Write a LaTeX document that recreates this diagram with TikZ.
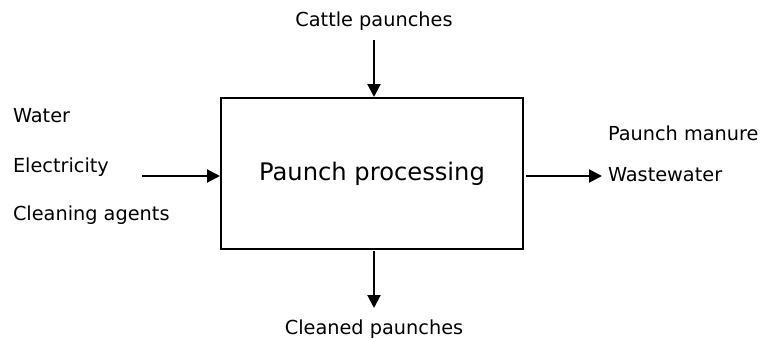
\documentclass[tikz,border=0pt]{standalone}
\usepackage{fontspec}
\setmainfont{DejaVu Sans}
\usetikzlibrary{arrows.meta}

\tikzset{
  flow/.style={line width=2pt, custcol_0_0_0, -{Triangle[length=13pt,width=13pt]}},
  lbl/.style={inner sep=0, outer sep=0, custcol_0_0_0, anchor=base west, font=\fontsize{19.3pt}{19.3pt}\selectfont},
  lblc/.style={lbl, anchor=base},
}

\begin{document}
\begin{tikzpicture}[x=1pt,y=-1pt,line cap=rect]
\useasboundingbox (0,0) rectangle (764,340);
\definecolor{custcol_0_0_0}{RGB}{0, 0, 0}
\definecolor{custcol_ff_ff_ff}{RGB}{255, 255, 255}
\fill [custcol_ff_ff_ff] (0,0) rectangle (764,340);
% process box
\node[draw, line width=2pt, custcol_0_0_0, inner sep=0, minimum width=302pt, minimum height=151pt,
      font=\fontsize{24.2pt}{24.2pt}\selectfont] (proc) at (372,173.5) {Paunch processing};
% labels
\node[lblc] (cattle) at (374,26.5) {Cattle paunches};
\node[lblc] (cleaned) at (374,334) {Cleaned paunches};
\node[lbl] (water) at (13,122) {Water};
\node[lbl] (elec) at (13,172.5) {Electricity};
\node[lbl] (agents) at (13,220) {Cleaning agents};
\node[lbl] (manure) at (608,140) {Paunch manure};
\node[lbl] (waste) at (608,181) {Wastewater};
% arrow ends
\coordinate (inTop) at (374,41);
\coordinate (inLeft) at (143,176);
\coordinate (outRight) at (602,176);
\coordinate (outBot) at (374,308);
\draw [flow] (inTop) -- (inTop |- proc.north);
\draw [flow] (inLeft) -- (inLeft -| proc.west);
\draw [flow, shorten <=3pt] (outRight -| proc.east) -- (outRight);
\draw [flow, shorten <=2pt] (outBot |- proc.south) -- (outBot);
\end{tikzpicture}
\end{document}
